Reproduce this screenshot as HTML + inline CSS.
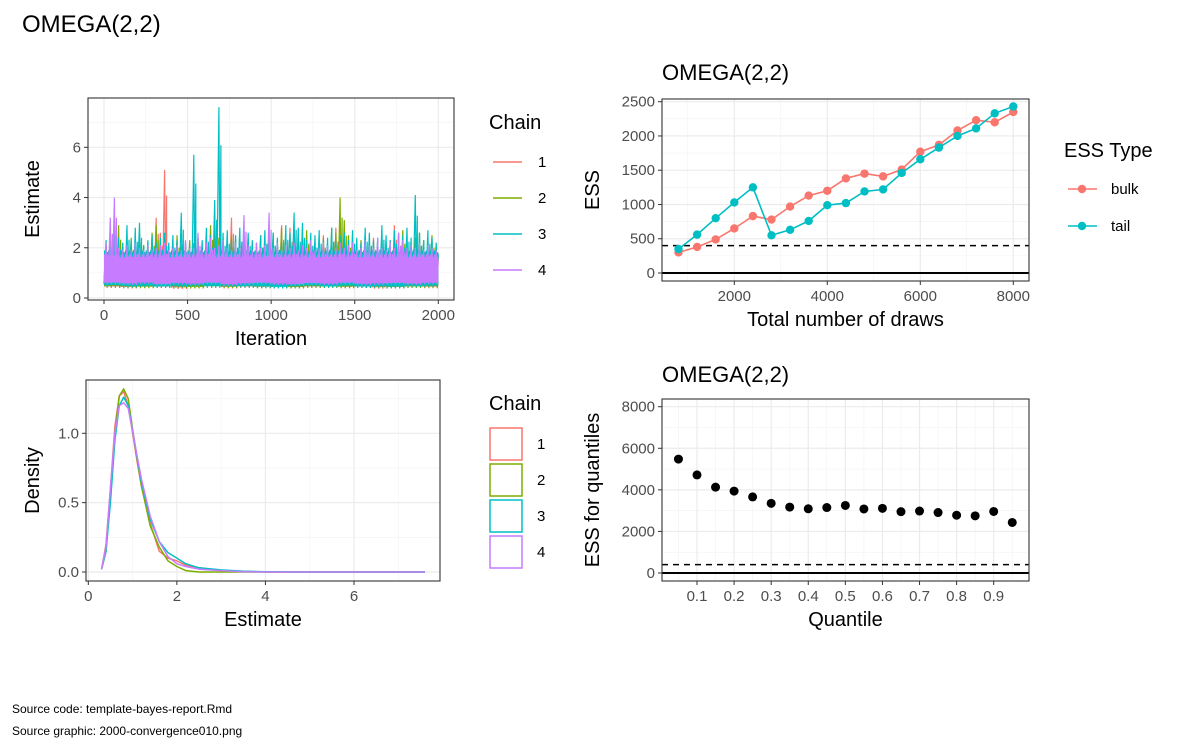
<!DOCTYPE html>
<html><head><meta charset="utf-8"><style>
body{margin:0;background:#fff;}
svg text{font-family:"Liberation Sans",sans-serif;}
</style></head><body>
<svg id="c" width="1200" height="750" xmlns="http://www.w3.org/2000/svg"></svg>
<script>
// ---- data ----
const chainColors=['#F8766D','#7CAE00','#00BFC4','#C77CFF'];
const chainLabels=['1','2','3','4'];
const traceHi1=[2.0,2.2,3.2,2.4,1.9,2.1,2.0,1.8,2.3,2.0,1.9,2.2,3.2,2.6,5.1,2.0,2.1,1.9,2.0,2.2,1.9,2.0,2.3,2.1,2.0,2.2,1.9,2.4,2.1,2.0,3.2,2.3,2.6,2.0,2.2,1.9,2.0,2.4,2.0,2.1,2.2,2.0,2.9,2.3,2.8,2.1,2.0,2.2,1.9,2.3,2.0,2.2,2.5,2.0,2.1,2.8,2.2,2.0,2.3,2.0,2.1,1.9,2.2,2.0,2.4,2.1,2.0,2.2,2.3,2.9,2.5,2.0,2.2,2.0,2.1,2.3,2.0,2.2,1.9,2.0];
const traceHi2=[2.1,2.3,2.6,2.9,2.0,2.2,2.4,2.0,2.7,2.1,2.2,2.6,2.9,2.3,2.1,2.0,2.2,2.5,2.1,2.0,2.3,2.2,2.4,2.1,2.0,2.9,2.6,2.4,2.2,2.1,2.5,2.3,2.0,2.2,2.4,2.1,2.0,2.5,2.2,2.0,2.6,2.3,2.8,2.1,2.4,2.2,2.0,2.3,2.7,2.1,2.2,2.0,2.4,2.1,2.8,2.6,4.0,3.1,2.5,2.2,2.0,2.3,2.1,2.4,2.2,2.0,2.5,2.2,2.1,2.3,2.6,2.7,2.2,2.1,2.4,2.6,2.3,2.0,2.5,2.1];
const traceHi3=[2.3,2.0,2.8,2.4,2.2,2.9,2.3,2.8,3.0,2.1,2.3,2.5,2.2,2.4,2.6,2.2,2.5,2.3,3.4,2.2,2.1,5.7,2.4,2.3,2.8,2.5,3.9,7.6,2.6,2.7,2.3,2.5,2.8,2.4,2.6,2.3,2.2,2.5,2.7,2.3,2.6,2.4,2.2,2.9,2.6,3.4,2.8,3.0,2.3,2.6,2.5,2.7,2.3,2.4,2.8,2.2,2.5,2.6,2.3,2.7,2.4,2.2,2.8,2.6,2.3,2.4,2.9,2.5,2.3,2.7,2.3,2.5,2.8,2.4,4.1,2.6,2.3,2.7,2.4,2.2];
const traceHi4=[2.2,3.2,4.0,2.0,1.9,2.1,1.9,2.2,2.0,1.9,2.1,1.9,2.0,2.1,2.2,1.9,2.0,2.1,1.9,2.3,2.0,2.0,2.6,1.9,2.2,2.4,2.0,2.1,2.3,2.0,1.9,2.2,2.0,3.3,2.1,1.9,2.2,2.0,2.1,3.4,2.0,2.2,1.9,2.1,2.0,2.2,1.9,2.1,2.0,2.3,1.9,2.0,2.2,2.1,1.9,2.0,2.2,2.0,2.1,2.2,1.9,2.0,2.3,2.1,2.0,2.4,2.0,1.9,2.2,2.0,2.6,2.3,2.0,2.1,2.0,2.2,1.9,2.1,2.0,1.9];
const traceLo1=[0.40,0.38,0.42,0.40,0.36,0.40,0.42,0.38,0.40,0.39,0.41,0.38,0.40,0.42,0.39,0.40,0.37,0.40,0.41,0.39];
const traceLo2=[0.42,0.40,0.39,0.42,0.40,0.38,0.41,0.40,0.42,0.39,0.40,0.38,0.41,0.40,0.39,0.41,0.40,0.38,0.40,0.41];
const traceLo3=[0.45,0.42,0.44,0.40,0.43,0.45,0.41,0.44,0.42,0.40,0.38,0.42,0.44,0.41,0.43,0.40,0.42,0.39,0.43,0.44];
const traceLo4=[0.55,0.52,0.56,0.50,0.54,0.52,0.55,0.50,0.53,0.55,0.52,0.50,0.54,0.52,0.55,0.51,0.53,0.54,0.52,0.55];
const traceHi=[traceHi1,traceHi2,traceHi3,traceHi4];
const traceLo=[traceLo1,traceLo2,traceLo3,traceLo4];

const densX=[0.3,0.4,0.5,0.6,0.7,0.8,0.9,1.0,1.1,1.2,1.4,1.6,1.8,2.0,2.2,2.5,3,3.5,4,5,6,7,7.6];
const dens1=[0.02,0.2,0.6,1.05,1.27,1.3,1.2,1.0,0.8,0.62,0.35,0.15,0.1,0.08,0.05,0.03,0.01,0.005,0,0,0,0,0];
const dens2=[0.02,0.15,0.55,1.0,1.27,1.32,1.25,1.03,0.82,0.62,0.33,0.18,0.08,0.04,0.01,0,0,0,0,0,0,0,0];
const dens3=[0.02,0.15,0.5,0.95,1.2,1.26,1.2,1.02,0.83,0.65,0.38,0.22,0.14,0.1,0.06,0.03,0.015,0.005,0.002,0,0,0,0];
const dens4=[0.02,0.18,0.6,1.0,1.2,1.22,1.18,1.02,0.84,0.67,0.4,0.22,0.11,0.06,0.04,0.02,0.01,0.002,0,0,0,0,0];
const densAll=[dens1,dens2,dens3,dens4];

const draws=[800,1200,1600,2000,2400,2800,3200,3600,4000,4400,4800,5200,5600,6000,6400,6800,7200,7600,8000];
const essBulk=[300,380,490,650,830,780,970,1130,1200,1380,1450,1410,1510,1770,1870,2080,2230,2200,2350];
const essTail=[350,560,800,1030,1250,550,630,760,990,1020,1190,1220,1460,1660,1830,2000,2110,2330,2430];

const quantiles=[0.05,0.1,0.15,0.2,0.25,0.3,0.35,0.4,0.45,0.5,0.55,0.6,0.65,0.7,0.75,0.8,0.85,0.9,0.95];
const essQuant=[5480,4720,4130,3940,3660,3350,3170,3090,3150,3250,3080,3110,2950,2980,2910,2780,2750,2960,2430];

const traceXTicks=[0,500,1000,1500,2000];
const traceYTicks=[0,2,4,6];
const densXTicks=[0,2,4,6];
const densYTicks=[0,0.5,1.0];
const densYLabels=['0.0','0.5','1.0'];
const essXTicks=[2000,4000,6000,8000];
const essYTicks=[0,500,1000,1500,2000,2500];
const qXTicks=[0.1,0.2,0.3,0.4,0.5,0.6,0.7,0.8,0.9];
const qYTicks=[0,2000,4000,6000,8000];

// ---- helpers ----
const svg=document.getElementById('c');
const NS='http://www.w3.org/2000/svg';
function mk(tag,attrs,parent){const e=document.createElementNS(NS,tag);for(const k in attrs)e.setAttribute(k,attrs[k]);(parent||svg).appendChild(e);return e;}
function txt(s,x,y,size,fill,anchor,parent){const t=mk('text',{x:x,y:y,'font-size':size,fill:fill,'text-anchor':anchor||'start'},parent);t.textContent=s;return t;}
function lin(d0,d1,r0,r1){return v=>r0+(v-d0)*(r1-r0)/(d1-d0);}

function panel(name,box,sx,sy,xMaj,xMin,yMaj,yMin,xLab,yLab,xTitle,yTitle,yOff){
  const g=mk('g',{});
  
  
  mk('rect',{x:box[0],y:box[1],width:box[2]-box[0],height:box[3]-box[1],fill:'#fff'},g);
  xMin.forEach(v=>mk('line',{x1:sx(v),x2:sx(v),y1:box[1],y2:box[3],stroke:'#f2f2f2','stroke-width':0.6},g));
  yMin.forEach(v=>mk('line',{y1:sy(v),y2:sy(v),x1:box[0],x2:box[2],stroke:'#f2f2f2','stroke-width':0.6},g));
  xMaj.forEach(v=>mk('line',{x1:sx(v),x2:sx(v),y1:box[1],y2:box[3],stroke:'#ebebeb','stroke-width':1.2},g));
  yMaj.forEach(v=>mk('line',{y1:sy(v),y2:sy(v),x1:box[0],x2:box[2],stroke:'#ebebeb','stroke-width':1.2},g));
  const ax=mk('g',{});
  
  
  xMaj.forEach((v,i)=>{mk('line',{x1:sx(v),x2:sx(v),y1:box[3],y2:box[3]+4,stroke:'#333','stroke-width':1},ax);
    txt(xLab[i],sx(v),box[3]+20,15,'#4d4d4d','middle',ax);});
  yMaj.forEach((v,i)=>{mk('line',{y1:sy(v),y2:sy(v),x1:box[0]-4,x2:box[0],stroke:'#333','stroke-width':1},ax);
    txt(yLab[i],box[0]-7,sy(v)+5,15,'#4d4d4d','end',ax);});
  const xt=txt(xTitle,(box[0]+box[2])/2,box[3]+45,20,'#000','middle',ax);
  
  
  const yc=(box[1]+box[3])/2, yx=box[0]-yOff;
  const yt=txt(yTitle,yx,yc,20,'#000','middle',ax);
  yt.setAttribute('transform','rotate(-90 '+yx+' '+yc+')');
  
  
  return g;
}
function border(box){const r=mk('rect',{x:box[0],y:box[1],width:box[2]-box[0],height:box[3]-box[1],fill:'none',stroke:'#333','stroke-width':1.1});
  
  }

// main title
const mt=txt('OMEGA(2,2)',22,32,24,'#000');



// ---- trace panel ----
{
 const box=[88,98,454,300];
 const sx=lin(0,2000,104,438.3), sy=lin(0,6,298,147.3);
 const g=panel('trace-panel',box,sx,sy,traceXTicks,[250,750,1250,1750],traceYTicks,[1,3,5,7],traceXTicks.map(String),traceYTicks.map(String),'Iteration','Estimate',49);
 for(let c=0;c<4;c++){
   const hi=traceHi[c], lo=traceLo[c], n=hi.length, step=2000/n;
   let d='';
   for(let i=0;i<n;i++){
     const l=lo[Math.floor(i*lo.length/n)];
     const xa=sx(i*step), xb=sx((i+0.5)*step);
     d+=(i===0?'M':'L')+xa.toFixed(1)+' '+sy(l+0.15).toFixed(1)+' L'+xb.toFixed(1)+' '+sy(hi[i]).toFixed(1)+' L'+(xb+1).toFixed(1)+' '+sy(l).toFixed(1)+' L'+(xb+2).toFixed(1)+' '+sy(hi[i]*0.8).toFixed(1)+' ';
   }
   const p=mk('path',{d:d,fill:'none',stroke:chainColors[c],'stroke-width':1.2},g);
   
   
   let band='';
   for(let i=0;i<n;i++){band+=(i===0?'M':'L')+sx(i*step).toFixed(1)+' '+sy(Math.min(hi[i],c===3?1.75:1.9)).toFixed(1)+' L'+sx((i+1)*step).toFixed(1)+' '+sy(Math.min(hi[i],c===3?1.6:1.8)).toFixed(1)+' ';}
   for(let i=n-1;i>=0;i--){const l=lo[Math.floor(i*lo.length/n)];band+='L'+sx((i+1)*step).toFixed(1)+' '+sy(l+0.08).toFixed(1)+' L'+sx(i*step).toFixed(1)+' '+sy(l+0.05).toFixed(1)+' ';}
   const b=mk('path',{d:band+'Z',fill:chainColors[c],stroke:'none'},g);
   
   
 }
 border(box);
 const lg=mk('g',{});
 
 
 txt('Chain',489,129,20,'#000','start',lg);
 for(let c=0;c<4;c++){const y=162+36*c;
   mk('line',{x1:493,x2:522,y1:y,y2:y,stroke:chainColors[c],'stroke-width':1.5},lg);
   txt(chainLabels[c],538,y+5,15,'#000','start',lg);}
}

// ---- density panel ----
{
 const box=[86,380,440,581];
 const sx=lin(0,6,88.3,354), sy=lin(0,1,572,433.3);
 const g=panel('density-panel',box,sx,sy,densXTicks,[1,3,5,7],densYTicks,[0.25,0.75,1.25],densXTicks.map(String),densYLabels,'Estimate','Density',47);
 for(let c=0;c<4;c++){
   const pts=densX.map((x,i)=>sx(x).toFixed(1)+','+sy(densAll[c][i]).toFixed(1)).join(' ');
   const p=mk('polyline',{points:pts,fill:'none',stroke:chainColors[c],'stroke-width':1.5,'stroke-linejoin':'round'},g);
   
   
 }
 border(box);
 const lg=mk('g',{});
 
 
 txt('Chain',489,410,20,'#000','start',lg);
 for(let c=0;c<4;c++){const y=428+36*c;
   mk('rect',{x:490,y:y,width:32,height:32,fill:'#fff',stroke:chainColors[c],'stroke-width':1.5},lg);
   txt(chainLabels[c],537,y+21,15,'#000','start',lg);}
}

// ---- ESS panel ----
{
 const box=[662,99,1029,281];
 const sx=lin(2000,8000,734.3,1013.3), sy=lin(0,2500,273,101.7);
 const pt=txt('OMEGA(2,2)',662,80,22,'#000');
 
 
 const g=panel('ess-panel',box,sx,sy,essXTicks,[1000,3000,5000,7000],essYTicks,[250,750,1250,1750,2250],essXTicks.map(String),essYTicks.map(String),'Total number of draws','ESS',63);
 mk('line',{x1:box[0],x2:box[2],y1:sy(0),y2:sy(0),stroke:'#000','stroke-width':2},g);
 mk('line',{x1:box[0],x2:box[2],y1:sy(400),y2:sy(400),stroke:'#000','stroke-width':1.5,'stroke-dasharray':'6,5'},g);
 [[essBulk,'#F8766D','bulk'],[essTail,'#00BFC4','tail']].forEach(([vals,col,nm])=>{
   const p=mk('polyline',{points:draws.map((d,i)=>sx(d).toFixed(1)+','+sy(vals[i]).toFixed(1)).join(' '),fill:'none',stroke:col,'stroke-width':1.6},g);
   
   
   draws.forEach((d,i)=>{const ci=mk('circle',{cx:sx(d),cy:sy(vals[i]),r:4.2,fill:col},g);
     
     });
 });
 border(box);
 const lg=mk('g',{});
 
 
 txt('ESS Type',1064,157,20,'#000','start',lg);
 [['bulk','#F8766D',189],['tail','#00BFC4',226]].forEach(([l,col,y])=>{
   mk('line',{x1:1068,x2:1097,y1:y,y2:y,stroke:col,'stroke-width':1.6},lg);
   mk('circle',{cx:1082,cy:y,r:4.2,fill:col},lg);
   txt(l,1111,y+5,15,'#000','start',lg);});
}

// ---- quantile panel ----
{
 const box=[662,399,1029,581];
 const sx=lin(0.1,0.9,697,993.7), sy=lin(0,8000,573,406.7);
 const pt=txt('OMEGA(2,2)',662,382,22,'#000');
 
 
 const g=panel('quantile-panel',box,sx,sy,qXTicks,[0.05,0.15,0.25,0.35,0.45,0.55,0.65,0.75,0.85,0.95],qYTicks,[1000,3000,5000,7000],qXTicks.map(v=>v.toFixed(1)),qYTicks.map(String),'Quantile','ESS for quantiles',63);
 mk('line',{x1:box[0],x2:box[2],y1:sy(0),y2:sy(0),stroke:'#000','stroke-width':2},g);
 mk('line',{x1:box[0],x2:box[2],y1:sy(400),y2:sy(400),stroke:'#000','stroke-width':1.5,'stroke-dasharray':'6,5'},g);
 quantiles.forEach((q,i)=>{const ci=mk('circle',{cx:sx(q),cy:sy(essQuant[i]),r:4.5,fill:'#000'},g);
   
   });
 border(box);
}

const s1=txt('Source code: template-bayes-report.Rmd',12,713,12,'#000');


const s2=txt('Source graphic: 2000-convergence010.png',12,735,12,'#000');


</script>
</body></html>
